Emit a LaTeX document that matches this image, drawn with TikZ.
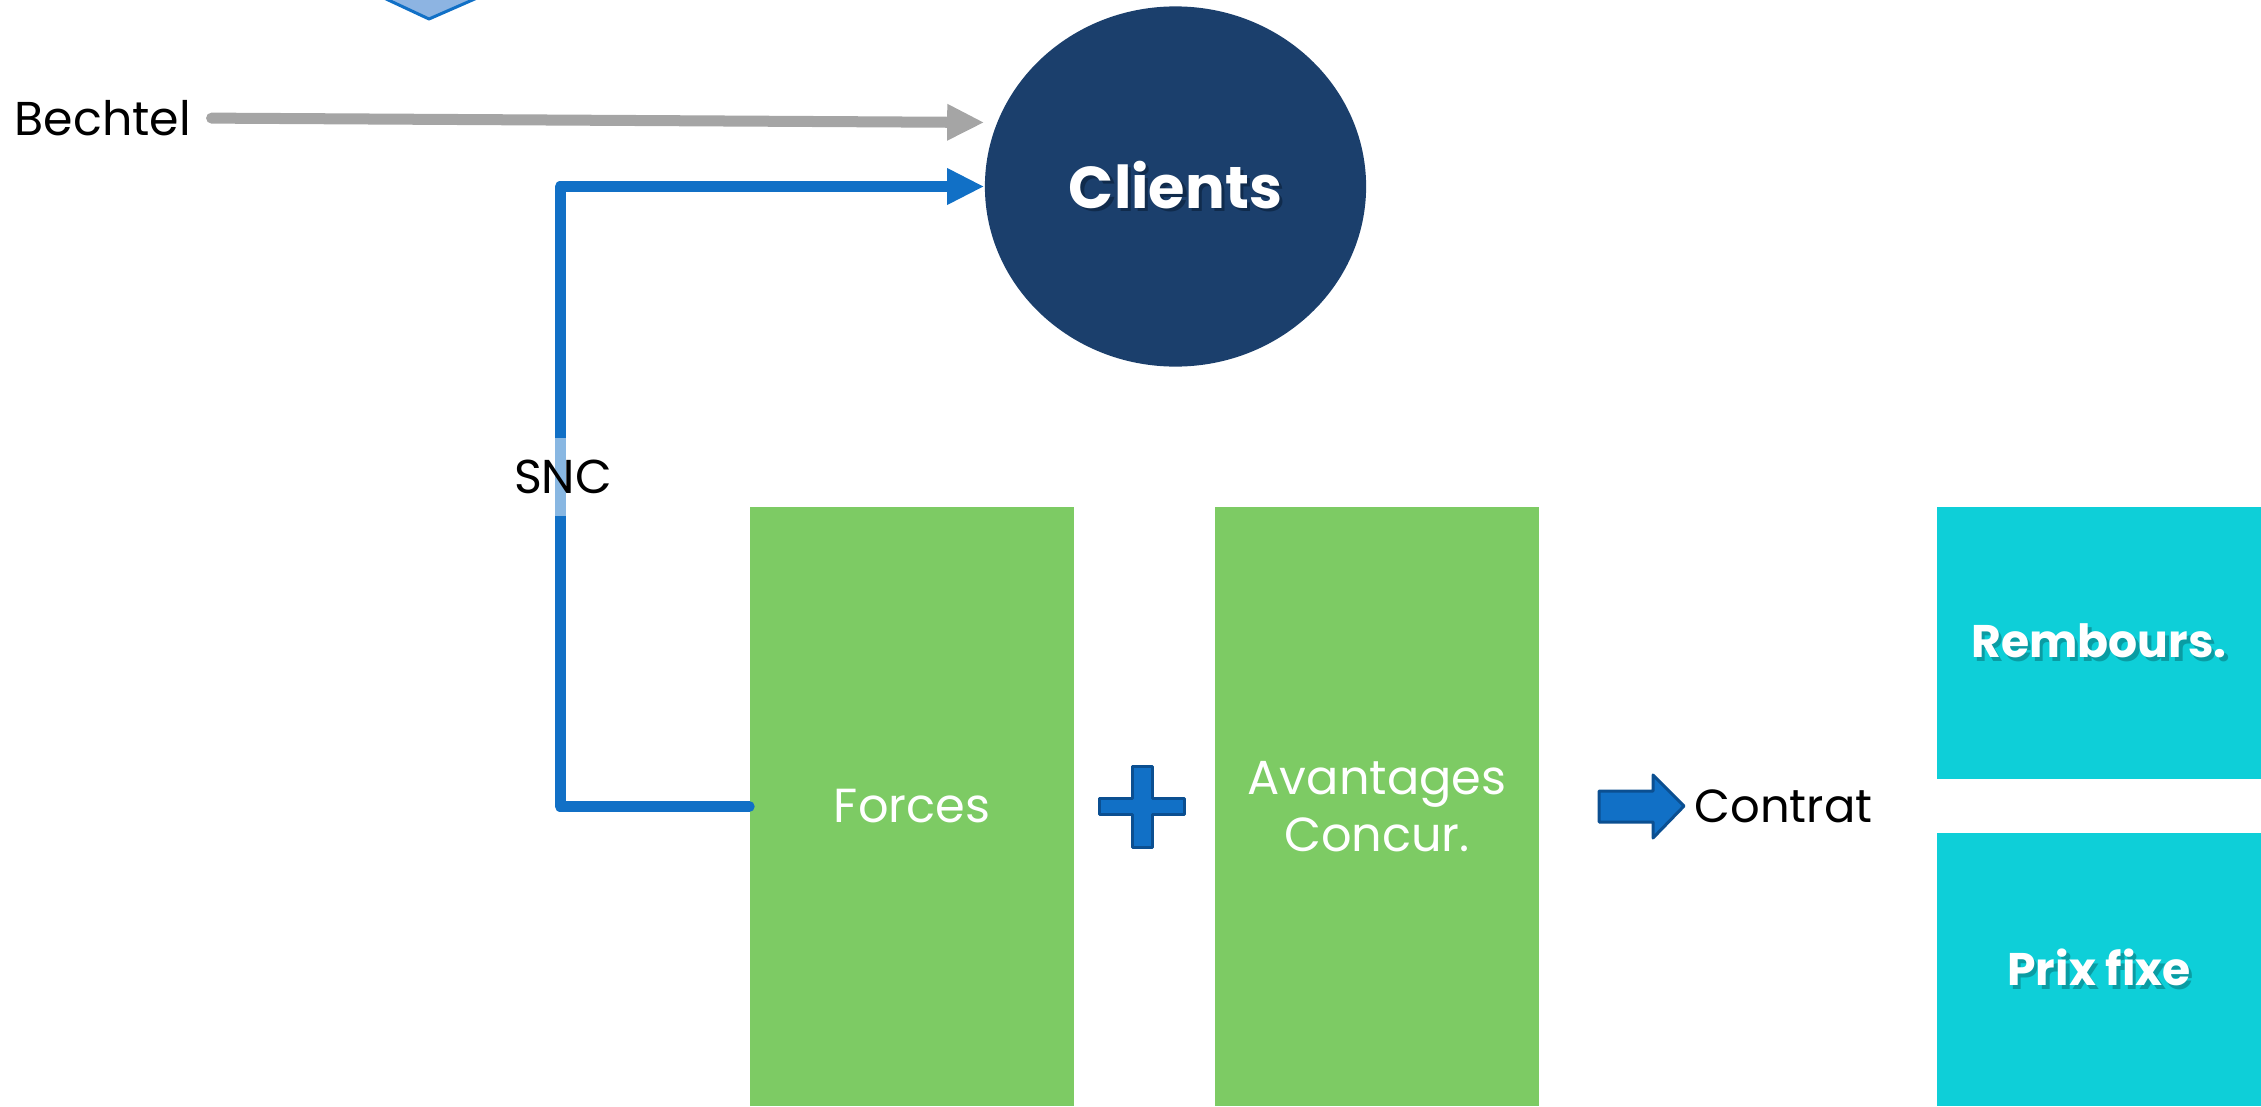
\documentclass[tikz,border=0pt]{standalone}
\usepackage{fontspec}
\setmainfont{Poppins}
\usetikzlibrary{arrows.meta,shapes.geometric}
\definecolor{navy}{HTML}{1B3F6C}
\definecolor{navyshd}{HTML}{102B4C}
\definecolor{grn}{HTML}{7DCB64}
\definecolor{cyanbox}{HTML}{0ECFD8}
\definecolor{cyanshd}{HTML}{0A9CA3}
\definecolor{bluel}{HTML}{1170C6}
\definecolor{bluedk}{HTML}{0B4F91}
\definecolor{grayl}{HTML}{A5A5A5}
\definecolor{lightblue}{HTML}{8DB4E2}
\newcommand\shdtext[2]{\makebox[0pt][l]{\hspace{1pt}\raisebox{-1pt}{\textcolor{#1}{#2}}}#2}
\tikzset{
  plain/.style={inner sep=0pt, text=black, font=\fontsize{13.5}{16}\selectfont},
  greenbox/.style={fill=grn, draw=none, minimum width=3.24cm, minimum height=5.99cm, inner sep=0pt, text=white, align=center, font=\fontsize{13.6}{16.2}\selectfont},
  cyanbx/.style={fill=cyanbox, draw=none, minimum width=3.24cm, minimum height=2.72cm, inner sep=0pt, text=white, font=\bfseries\fontsize{13}{15}\selectfont},
  clientnode/.style={ellipse, fill=navy, draw=none, minimum width=3.81cm, minimum height=3.6cm, inner sep=0pt, text=white, font=\bfseries\fontsize{16.8}{19}\selectfont},
  grayline/.style={draw=grayl, line width=0.11cm, line cap=round, -{Triangle[length=0.37cm,width=0.34cm]}},
  blueline/.style={draw=bluel, line width=0.11cm, line cap=round, line join=round, -{Triangle[length=0.37cm,width=0.34cm]}},
  blockshape/.style={fill=bluel, draw=bluedk, line width=0.03cm, line join=round}
}
\begin{document}
\begin{tikzpicture}[x=0.01cm, y=-0.01cm]
\useasboundingbox (0,0) rectangle (2261,1106);
% partial shape at top
\begin{scope}
\clip (0,0) rectangle (2261,1106);
\fill[lightblue] (384,-2) -- (429,19) -- (477,-2) -- cycle;
\draw[bluel, line width=0.03cm, line join=round] (384,-2) -- (429,19) -- (477,-2);
\end{scope}
% nodes
\node[clientnode] (clients) at (1175.5,186.5) {\shdtext{navyshd}{Clients}};
\node[plain, anchor=west] (bechtel) at (14,118) {Bechtel};
\node[greenbox] (forces) at (912,806.5) {Forces};
\node[greenbox] (avantages) at (1377,806.5) {Avantages\\Concur.};
\node[plain, anchor=west, font=\fontsize{13.2}{16}\selectfont] (contrat) at (1694,806) {Contrat};
\node[cyanbx] (rembours) at (2099,643) {\shdtext{cyanshd}{Rembours.}};
\node[cyanbx, minimum height=2.73cm] (prix) at (2099,969.5) {\shdtext{cyanshd}{Prix fixe}};
\coordinate (gtip) at ([yshift=0.64cm]clients.west);
% connectors
\draw[grayline, shorten <=0.2cm] (bechtel.east) -- (gtip);
\draw[blueline] (forces.west) -- ++(-189,0) |- (clients.west);
\node[plain, fill=white, fill opacity=0.5, text opacity=1, minimum height=0.78cm] (snc) at (563,477) {SNC};
% plus sign
\draw[blockshape] (1132,766) -- (1152,766) -- (1152,798) -- (1184,798) -- (1184,814) -- (1152,814) -- (1152,847) -- (1132,847) -- (1132,814) -- (1099,814) -- (1099,798) -- (1132,798) -- cycle;
% block arrow
\draw[blockshape] (1599,791) -- (1653,791) -- (1653,775) -- (1684,806) -- (1653,838) -- (1653,822) -- (1599,822) -- cycle;
\end{tikzpicture}
\end{document}
